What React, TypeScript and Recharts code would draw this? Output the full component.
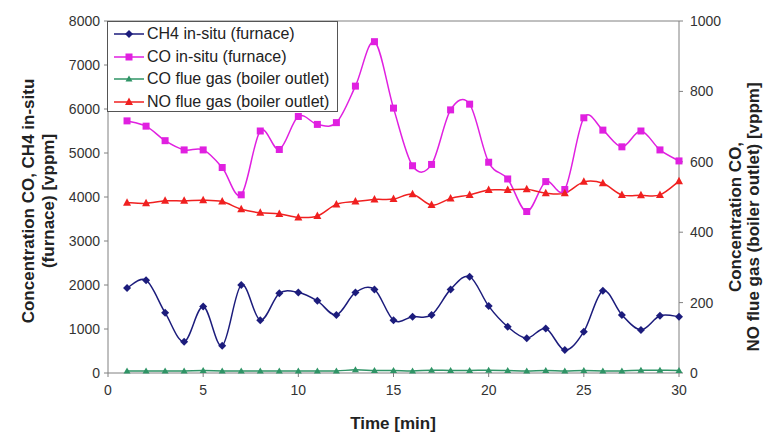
import { Legend, Line, LineChart, ReferenceLine, XAxis, YAxis } from 'recharts'

const minutes = [
  1, 2, 3, 4, 5, 6, 7, 8, 9, 10, 11, 12, 13, 14, 15, 16, 17, 18, 19, 20, 21, 22, 23, 24, 25, 26, 27, 28, 29, 30,
]
const ch4InSitu = [
  1930, 2110, 1370, 710, 1510, 620, 2000, 1200, 1810, 1830, 1640, 1320, 1830, 1900, 1200, 1280, 1320, 1900, 2190, 1520,
  1050, 790, 1010, 520, 940, 1870, 1320, 980, 1300, 1280,
]
const coInSitu = [
  5730, 5610, 5280, 5070, 5070, 4670, 4050, 5500, 5080, 5830, 5650, 5690, 6520, 7530, 6020, 4710, 4740, 5980, 6110, 4790,
  4410, 3670, 4350, 4170, 5800, 5520, 5140, 5500, 5070, 4820,
]
const coFlueGas = [6, 6, 6, 6, 7, 6, 6, 6, 6, 6, 6, 6, 9, 7, 7, 6, 8, 7, 7, 8, 7, 6, 7, 6, 7, 6, 6, 8, 8, 7]
const noFlueGas = [
  484, 482, 489, 489, 491, 487, 465, 455, 452, 442, 446, 479, 487, 493, 494, 508, 477, 496, 506, 520, 520, 522, 511, 511,
  543, 539, 506, 505, 506, 545,
]
const xTicks = [0, 5, 10, 15, 20, 25, 30]
const leftTicks = [0, 1000, 2000, 3000, 4000, 5000, 6000, 7000, 8000]
const rightTicks = [0, 200, 400, 600, 800, 1000]

const data = minutes.map((t, i) => ({
  t,
  ch4: ch4InSitu[i],
  coIn: coInSitu[i],
  coFlue: coFlueGas[i],
  no: noFlueGas[i],
}))

const FONT = "'Liberation Sans', Arial, sans-serif"
const AXIS = '#808080'
const TEXT = '#222'

type Kind = 'diamond' | 'square' | 'triangle' | 'star'

const series: { key: string; name: string; color: string; kind: Kind; axis: string }[] = [
  { key: 'ch4', name: 'CH4 in-situ (furnace)', color: '#1c1c7c', kind: 'diamond', axis: 'left' },
  { key: 'coIn', name: 'CO in-situ (furnace)', color: '#e020e0', kind: 'square', axis: 'left' },
  { key: 'coFlue', name: 'CO flue gas (boiler outlet)', color: '#2f9466', kind: 'triangle', axis: 'right' },
  { key: 'no', name: 'NO flue gas (boiler outlet)', color: '#f02020', kind: 'star', axis: 'right' },
]

// excel-like smoothed line (uniform catmull-rom through the points)
function smoothCurve(context: any) {
  let pts: number[][] = []
  return {
    areaStart() {},
    areaEnd() {},
    lineStart() {
      pts = []
    },
    point(x: number, y: number) {
      pts.push([+x, +y])
    },
    lineEnd() {
      if (!pts.length) return
      context.moveTo(pts[0][0], pts[0][1])
      for (let i = 0; i < pts.length - 1; i++) {
        const p0 = pts[i - 1] || pts[i]
        const p1 = pts[i]
        const p2 = pts[i + 1]
        const p3 = pts[i + 2] || p2
        context.bezierCurveTo(
          p1[0] + (p2[0] - p0[0]) / 6,
          p1[1] + (p2[1] - p0[1]) / 6,
          p2[0] - (p3[0] - p1[0]) / 6,
          p2[1] - (p3[1] - p1[1]) / 6,
          p2[0],
          p2[1],
        )
      }
    },
  }
}

function Marker({ kind, cx, cy, color }: { kind: Kind; cx: number; cy: number; color: string }) {
  if (kind === 'diamond') {
    const r = 4
    return <polygon points={`${cx},${cy - r} ${cx + r},${cy} ${cx},${cy + r} ${cx - r},${cy}`} fill={color} />
  }
  if (kind === 'square') {
    return <rect x={cx - 3.5} y={cy - 3.5} width={7} height={7} fill={color} />
  }
  if (kind === 'triangle') {
    return <polygon points={`${cx},${cy - 3.5} ${cx + 3.5},${cy + 2.5} ${cx - 3.5},${cy + 2.5}`} fill={color} />
  }
  return <polygon points={`${cx},${cy - 4.5} ${cx + 4},${cy + 3} ${cx - 4},${cy + 3}`} fill={color} />
}

function LegendBox(props: { payload?: Array<{ value?: string; dataKey?: unknown }> }) {
  const items = props.payload ?? []
  // keep the series order (recharts sorts the payload by name)
  const rows = series.map((s) => ({ s, label: items.find((it) => it.dataKey === s.key)?.value ?? s.name }))
  return (
    <div
      style={{
        width: 229,
        height: 88,
        border: '1px solid #555',
        background: '#fff',
        fontFamily: FONT,
        fontSize: 16,
        color: TEXT,
        paddingTop: 1,
      }}
    >
      {rows.map(({ s, label }) => (
        <div key={s.key} style={{ height: 22.5, display: 'flex', alignItems: 'center', whiteSpace: 'nowrap' }}>
          <svg width={34} height={12} style={{ marginLeft: 4, marginRight: 1 }}>
            <line x1={2} y1={6} x2={32} y2={6} stroke={s.color} strokeWidth={1.5} />
            <Marker kind={s.kind} cx={17} cy={6} color={s.color} />
          </svg>
          <span>{label}</span>
        </div>
      ))}
    </div>
  )
}

function LeftTitle() {
  return (
    <g fontFamily={FONT} fontSize={17} fontWeight="bold" fill={TEXT} textAnchor="middle">
      <text transform="translate(28,201) rotate(-90)" dominantBaseline="central">
        Concentration CO, CH4 in-situ
      </text>
      <text transform="translate(48,201) rotate(-90)" dominantBaseline="central">
        (furnace) [vppm]
      </text>
    </g>
  )
}

function RightTitle() {
  return (
    <g fontFamily={FONT} fontSize={17} fontWeight="bold" fill={TEXT} textAnchor="middle">
      <text transform="translate(735,217) rotate(-90)" dominantBaseline="central">
        Concentration CO,
      </text>
      <text transform="translate(753,217) rotate(-90)" dominantBaseline="central">
        NO flue gas (boiler outlet) [vppm]
      </text>
    </g>
  )
}

function BottomTitle() {
  return (
    <text x={393} y={423} fontFamily={FONT} fontSize={17} fontWeight="bold" fill={TEXT} textAnchor="middle" dominantBaseline="central">
      Time [min]
    </text>
  )
}

const tickStyle = { fill: '#333', fontSize: 14, fontFamily: FONT }

export default function App() {
  return (
    <div style={{ position: 'absolute', left: 0, top: 0, width: 771, height: 434, background: '#fff' }}>
      <LineChart width={771} height={434} data={data} margin={{ top: 21, right: 0, bottom: 0, left: 0 }}>
        <XAxis
          dataKey="t"
          type="number"
          domain={[0, 30]}
          ticks={xTicks}
          height={61}
          stroke={AXIS}
          tickSize={4}
          tickMargin={8}
          tick={tickStyle}
          label={<BottomTitle />}
        />
        <YAxis
          yAxisId="left"
          orientation="left"
          domain={[0, 8000]}
          ticks={leftTicks}
          width={108}
          stroke={AXIS}
          tickSize={4}
          tickMargin={4}
          tick={tickStyle}
          label={<LeftTitle />}
        />
        <YAxis
          yAxisId="right"
          orientation="right"
          domain={[0, 1000]}
          ticks={rightTicks}
          width={92}
          stroke={AXIS}
          tickSize={4}
          tickMargin={7}
          tick={tickStyle}
          label={<RightTitle />}
        />
        <ReferenceLine yAxisId="left" y={8000} stroke={AXIS} />
        {series.map((s) => (
          <Line
            key={s.key}
            yAxisId={s.axis}
            dataKey={s.key}
            name={s.name}
            type={smoothCurve as any}
            stroke={s.color}
            strokeWidth={1.5}
            isAnimationActive={false}
            dot={(p: any) => <Marker key={`${s.key}-${p.index}`} kind={s.kind} cx={p.cx} cy={p.cy} color={s.color} />}
            activeDot={false}
          />
        ))}
        <Legend
          layout="horizontal"
          align="center"
          verticalAlign="middle"
          content={<LegendBox />}
          wrapperStyle={{ left: 107, top: 21, width: 231, height: 90 }}
        />
      </LineChart>
    </div>
  )
}
